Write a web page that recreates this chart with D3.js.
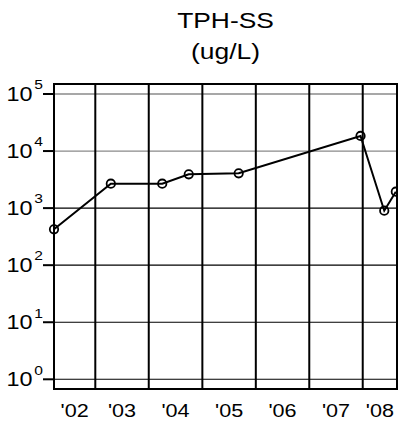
<!DOCTYPE html>
<html>
<head>
<meta charset="utf-8">
<script src="https://cdn.jsdelivr.net/npm/d3@7"></script>
<style>
  html, body { margin: 0; padding: 0; background: #fff; }
  svg { display: block; font-family: "Liberation Sans", Arial, Helvetica, sans-serif; }
</style>
</head>
<body>
<svg id="chart" width="398" height="424"></svg>
<script>
// Sample dates and TPH-SS concentrations (ug/L)
const sampleDates = ["2002-03-25", "2003-04-17", "2004-04-02", "2004-09-30",
                     "2005-09-06", "2007-12-17", "2008-05-27", "2008-08-14"];
const tphValues = [425, 2680, 2680, 3915, 4075, 18400, 900, 1940];

// Axis ticks
const decadeExponents = [0, 1, 2, 3, 4, 5];
const yearLabels = ["'02", "'03", "'04", "'05", "'06", "'07", "'08"];
const yearStarts = [2003, 2004, 2005, 2006, 2007, 2008];

const titleLines = ["TPH-SS", "(ug/L)"];

const parse = d3.timeParse("%Y-%m-%d");
const data = sampleDates.map((d, i) => ({ date: parse(d), value: tphValues[i] }));

const plot = { left: 54, right: 397, top: 84, bottom: 389 };
const textStretch = 1.2;

const x = d3.scaleTime()
  .domain([parse("2002-03-25"), parse("2008-08-22")])
  .range([plot.left, plot.right]);

const y = d3.scaleLog()
  .domain([Math.pow(10, -0.17), Math.pow(10, 5.175)])
  .range([plot.bottom, plot.top]);

const svg = d3.select("#chart");

// stretched text helper
function label(g, px, py, str, size, anchor) {
  return g.append("text")
    .attr("transform", `translate(${px},${py}) scale(${textStretch},1)`)
    .attr("text-anchor", anchor)
    .attr("font-size", size)
    .attr("fill", "#000")
    .text(str);
}

// title
const cx = (plot.left + plot.right) / 2;
label(svg, cx, 28, titleLines[0], 22, "middle");
label(svg, cx, 59, titleLines[1], 22, "middle");

// horizontal decade grid lines
svg.append("g").selectAll("line")
  .data(decadeExponents)
  .join("line")
  .attr("x1", plot.left).attr("x2", plot.right)
  .attr("y1", e => y(Math.pow(10, e))).attr("y2", e => y(Math.pow(10, e)))
  .attr("stroke", e => e >= 4 ? "#8a8a8a" : "#000")
  .attr("stroke-width", e => e >= 4 ? 1.3 : 1.1);

// year boundary lines
svg.append("g").selectAll("line")
  .data(yearStarts)
  .join("line")
  .attr("x1", yr => x(new Date(yr, 0, 1))).attr("x2", yr => x(new Date(yr, 0, 1)))
  .attr("y1", plot.top).attr("y2", plot.bottom)
  .attr("stroke", "#000").attr("stroke-width", 2);

// plot frame
svg.append("rect")
  .attr("x", plot.left).attr("y", plot.top)
  .attr("width", plot.right - plot.left).attr("height", plot.bottom - plot.top)
  .attr("fill", "none").attr("stroke", "#000").attr("stroke-width", 2);

// y ticks and labels
const yAxis = svg.append("g");
decadeExponents.forEach(e => {
  const ty = y(Math.pow(10, e));
  yAxis.append("line")
    .attr("x1", plot.left - 11).attr("x2", plot.left)
    .attr("y1", ty).attr("y2", ty)
    .attr("stroke", "#000").attr("stroke-width", 2);
  const t = yAxis.append("text")
    .attr("transform", `translate(${plot.left - 11},${ty + 7}) scale(${textStretch},1)`)
    .attr("text-anchor", "end")
    .attr("fill", "#000");
  t.append("tspan").attr("font-size", 19.5).text("10");
  t.append("tspan").attr("font-size", 13).attr("dx", 1.5).attr("dy", -11.7).text(e);
});

// year labels, centred on the visible part of each year
const [d0, d1] = x.domain();
yearLabels.forEach((lab, i) => {
  const yr = 2002 + i;
  const a = Math.max(x(new Date(yr, 0, 1)), x(d0));
  const b = Math.min(x(new Date(yr + 1, 0, 1)), x(d1));
  label(svg, (a + b) / 2, 417, lab, 18, "middle");
});

// concentration line
svg.append("path")
  .datum(data)
  .attr("fill", "none")
  .attr("stroke", "#000")
  .attr("stroke-width", 2)
  .attr("d", d3.line().x(d => x(d.date)).y(d => y(d.value)));

// sample markers
svg.append("g").selectAll("circle")
  .data(data)
  .join("circle")
  .attr("cx", d => x(d.date))
  .attr("cy", d => y(d.value))
  .attr("r", 4.2)
  .attr("fill", "none")
  .attr("stroke", "#000")
  .attr("stroke-width", 1.8);
</script>
</body>
</html>
